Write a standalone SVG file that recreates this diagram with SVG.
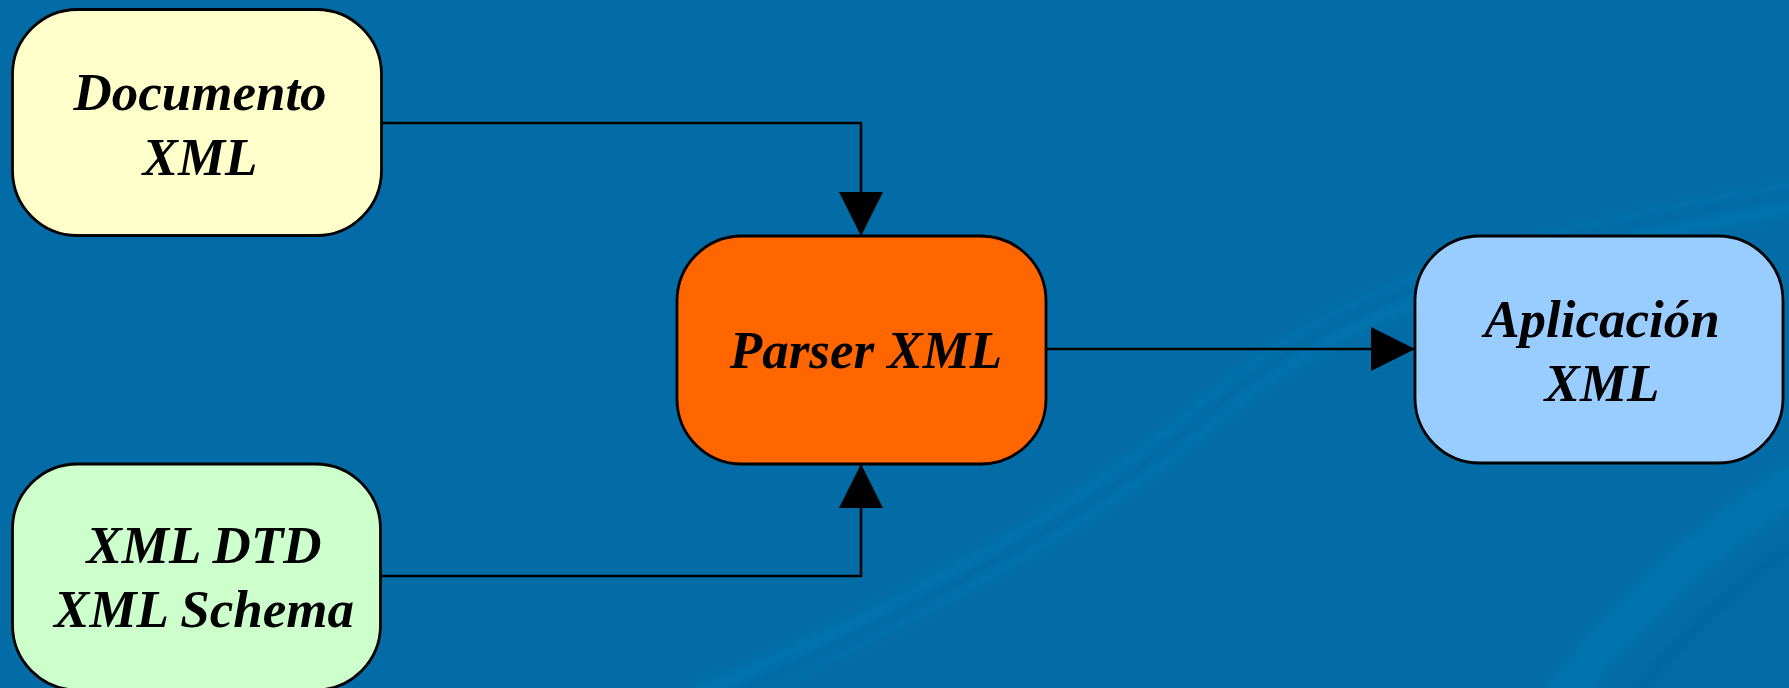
<svg xmlns="http://www.w3.org/2000/svg" width="1789" height="688" viewBox="0 0 1789 688">
  <style>
    .box { stroke: #000; stroke-width: 2.8; }
    .label { font-family: "Liberation Serif", "Times New Roman", serif; font-weight: bold; font-style: italic; font-size: 53px; fill: #000; text-anchor: middle; }
    .wire { fill: none; stroke: #000; stroke-width: 2.6; }
    .streak { fill: none; stroke-linecap: round; }
  </style>
  <defs>
    <marker id="tri" markerUnits="userSpaceOnUse" markerWidth="44" markerHeight="44" refX="44" refY="22" orient="auto">
      <path d="M0,0 L44,22 L0,44 Z" fill="#000"/>
    </marker>
    <filter id="soft" x="-10%" y="-10%" width="120%" height="120%">
      <feGaussianBlur stdDeviation="4"/>
    </filter>
  </defs>

  <!-- background -->
  <rect width="1789" height="688" fill="#036ca6"/>
  <g filter="url(#soft)">
    <path class="streak" d="M700,700 C900,620 1080,520 1200,420 C1300,335 1420,260 1789,200" stroke="#0a77b0" stroke-width="34" opacity="0.6"/>
    <path class="streak" d="M720,700 C910,615 1090,515 1205,415 C1305,330 1420,255 1789,195" stroke="#0463a0" stroke-width="8" opacity="0.7"/>
    <path class="streak" d="M1630,700 C1680,640 1740,580 1800,540" stroke="#0463a0" stroke-width="10" opacity="0.7"/>
    <path class="streak" d="M1560,700 C1620,620 1700,540 1800,480" stroke="#0b7ab3" stroke-width="40" opacity="0.5"/>
  </g>

  <!-- connectors -->
  <g id="connectors">
    <path class="wire" d="M382,123 H861 V236" marker-end="url(#tri)"/>
    <path class="wire" d="M380,576 H861 V464" marker-end="url(#tri)"/>
    <path class="wire" d="M1046,349 H1415" marker-end="url(#tri)"/>
  </g>

  <g id="documento">
    <rect class="box" x="12.5" y="9.5" width="369" height="226" rx="65" ry="65" fill="#ffffcc"/>
    <text class="label" x="200" y="110">Documento</text>
    <text class="label" x="200" y="175">XML</text>
  </g>

  <g id="schema">
    <rect class="box" x="12.5" y="464" width="368" height="226" rx="65" ry="65" fill="#ccffcc"/>
    <text class="label" x="204" y="563">XML DTD</text>
    <text class="label" x="204" y="627">XML Schema</text>
  </g>

  <g id="parser">
    <rect class="box" x="677" y="236" width="369" height="228" rx="65" ry="65" fill="#ff6600"/>
    <text class="label" x="866" y="368">Parser XML</text>
  </g>

  <g id="aplicacion">
    <rect class="box" x="1415" y="236" width="368" height="227" rx="65" ry="65" fill="#99ccff"/>
    <text class="label" x="1602" y="337">Aplicación</text>
    <text class="label" x="1602" y="401">XML</text>
  </g>
</svg>
